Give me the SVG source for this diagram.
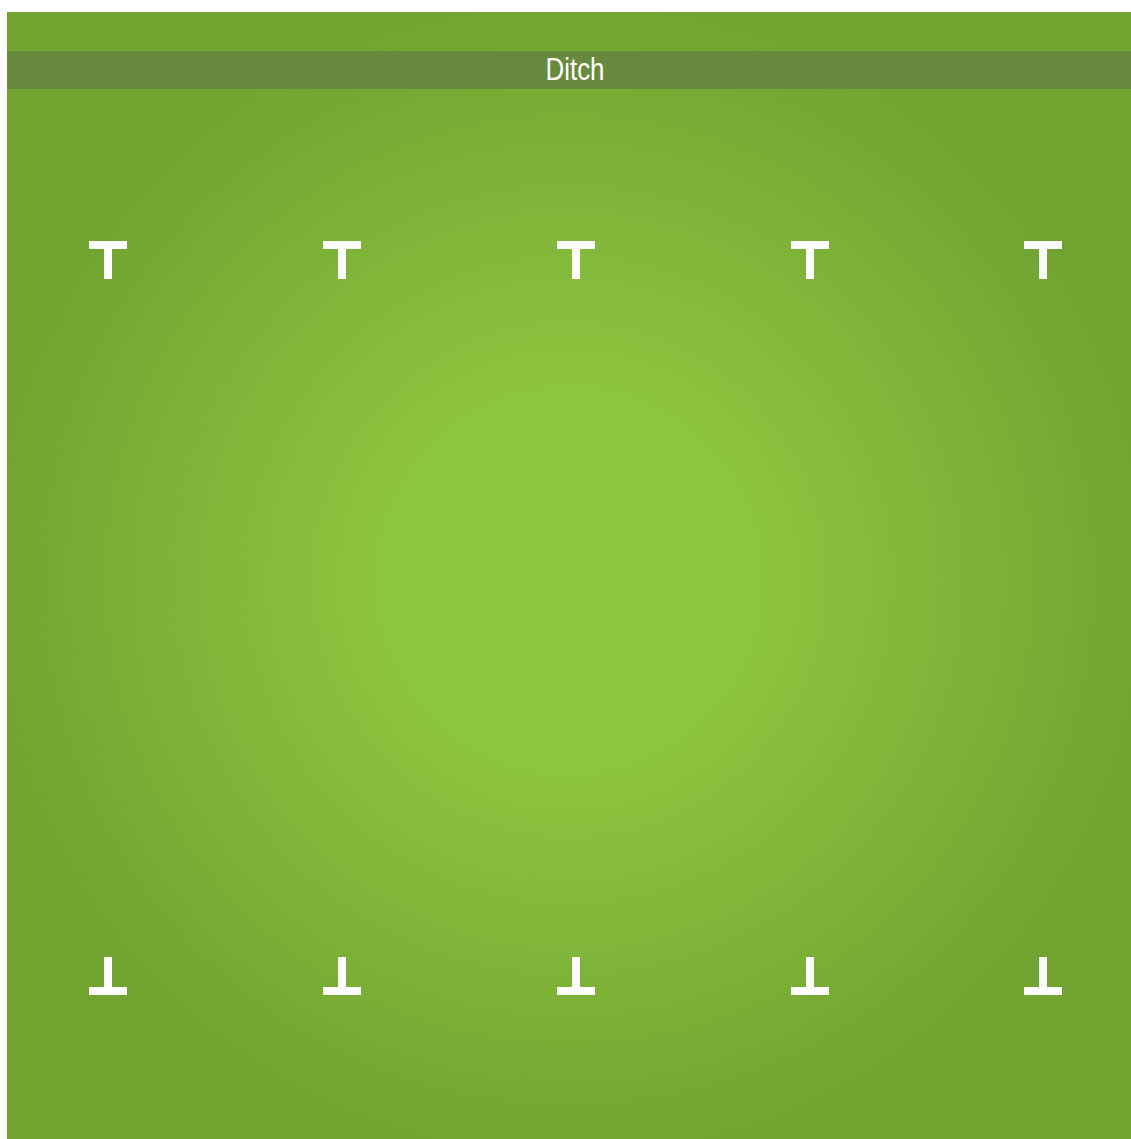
<svg xmlns="http://www.w3.org/2000/svg" width="1131" height="1139" viewBox="0 0 1131 1139">
  <style>
    .post { fill: #ffffff; }
    .label { font-family: "Liberation Sans Narrow", "Liberation Sans", Arial, sans-serif; font-size: 31px; fill: #ffffff; }
  </style>
  <defs>
    <radialGradient id="field" gradientUnits="userSpaceOnUse" cx="569" cy="580" r="590">
      <stop offset="0" stop-color="#8dc63f"/>
      <stop offset="0.3" stop-color="#8dc63f"/>
      <stop offset="1" stop-color="#71a331"/>
    </radialGradient>
    <g id="topPost">
      <rect x="-19" y="0" width="38" height="8"/>
      <rect x="-4" y="0" width="8" height="38"/>
    </g>
    <g id="bottomPost">
      <rect x="-19" y="30" width="38" height="8"/>
      <rect x="-4" y="0" width="8" height="38"/>
    </g>
  </defs>
  <rect x="0" y="0" width="1131" height="1139" fill="#ffffff"/>
  <g id="pitch">
    <rect x="7" y="12" width="1124" height="1127" fill="url(#field)"/>
  </g>
  <g id="ditch">
    <rect x="7" y="51" width="1124" height="38" fill="#688a3e"/>
    <text class="label" x="575" y="80" text-anchor="middle" textLength="59" lengthAdjust="spacingAndGlyphs">Ditch</text>
  </g>
  <g id="top-posts" class="post">
    <use href="#topPost" x="108" y="241"/>
    <use href="#topPost" x="342" y="241"/>
    <use href="#topPost" x="576" y="241"/>
    <use href="#topPost" x="810" y="241"/>
    <use href="#topPost" x="1043" y="241"/>
  </g>
  <g id="bottom-posts" class="post">
    <use href="#bottomPost" x="108" y="957"/>
    <use href="#bottomPost" x="342" y="957"/>
    <use href="#bottomPost" x="576" y="957"/>
    <use href="#bottomPost" x="810" y="957"/>
    <use href="#bottomPost" x="1043" y="957"/>
  </g>
</svg>
